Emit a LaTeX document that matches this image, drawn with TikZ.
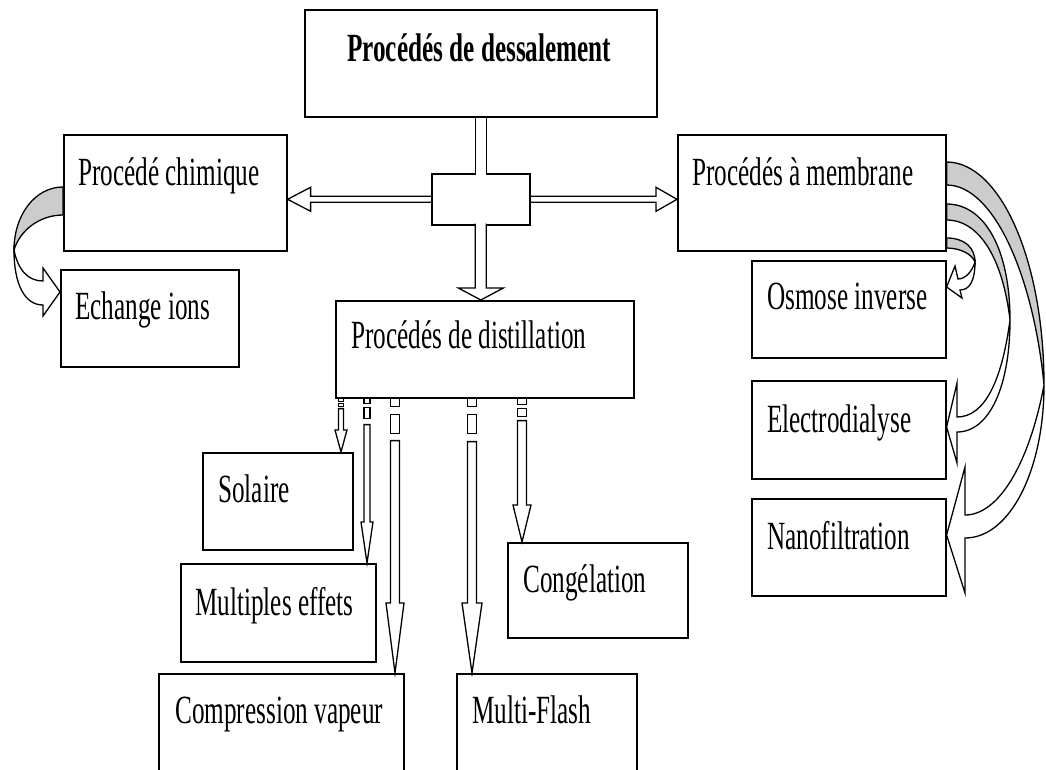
\documentclass[tikz,border=0pt]{standalone}
\usepackage{fontspec}
\setmainfont{Liberation Serif}[FakeStretch=0.63]
\usetikzlibrary{calc}
\definecolor{gris}{gray}{0.8}

\begin{document}
\begin{tikzpicture}[
        x=1pt, y=-1pt,
        boite/.style={draw, line width=1.6pt, anchor=north west, inner sep=0pt},
        texte/.style={anchor=base west, inner sep=0pt, font=\fontsize{40}{48}\selectfont},
        creux/.style={draw, line width=1.3pt},
        courbe/.style={draw, line width=1.3pt, fill=gris}
    ]
    \useasboundingbox (0,0) rectangle (1046,769);

    % boites
    \node[boite, minimum width=352, minimum height=107] (dess) at (304,9) {};
    \node[boite, minimum width=223, minimum height=116] (chim) at (63,134) {};
    \node[boite, minimum width=178, minimum height=97] (ech) at (60,269) {};
    \node[boite, minimum width=298, minimum height=97] (dist) at (335,300) {};
    \node[boite, minimum width=268, minimum height=116] (memb) at (677,134) {};
    \node[boite, minimum width=194, minimum height=97] (osm) at (751,260) {};
    \node[boite, minimum width=194, minimum height=98] (elec) at (751,380) {};
    \node[boite, minimum width=194, minimum height=97] (nano) at (751,498) {};
    \node[boite, minimum width=150, minimum height=97] (sol) at (202,452) {};
    \node[boite, minimum width=195, minimum height=98] (multi) at (180,563) {};
    \node[boite, minimum width=245, minimum height=130] (comp) at (158,673) {};
    \node[boite, minimum width=180, minimum height=95] (cong) at (507,542) {};
    \node[boite, minimum width=180, minimum height=130] (flash) at (456,673) {};
    \node[boite, minimum width=98, minimum height=51] (hub) at (431,173) {};

    % textes
    \node[texte, font=\fontsize{40}{48}\selectfont\bfseries] (tdess) at (347,61) {Procédés de dessalement};
    \node[texte] (tchim) at (78,185) {Procédé chimique};
    \node[texte] (tech) at (75,319) {Echange ions};
    \node[texte] (tdist) at (351,348) {Procédés de distillation};
    \node[texte] (tmemb) at (692,185) {Procédés à membrane};
    \node[texte] (tosm) at (767,309) {Osmose inverse};
    \node[texte] (telec) at (767,432) {Electrodialyse};
    \node[texte] (tnano) at (767,549) {Nanofiltration};
    \node[texte] (tsol) at (218,502) {Solaire};
    \node[texte] (tmulti) at (195,615) {Multiples effets};
    \node[texte] (tcomp) at (175,723) {Compression vapeur};
    \node[texte] (tcong) at (523,592) {Congélation};
    \node[texte] (tflash) at (472,723) {Multi-Flash};

    % liaisons centrales
    \fill[white] ($(hub.north)+(-4.8,-2)$) rectangle ($(hub.north)+(4.8,3)$);
    \draw[creux] ($(dess.south)+(-5.5,0)$) -- ($(hub.north)+(-5.5,0)$);
    \draw[creux] ($(dess.south)+(5.5,0)$) -- ($(hub.north)+(5.5,0)$);
    \draw[creux, fill=white] ($(hub.south)+(-5.5,-2)$) -- ($(hub.south |- dist.north)+(-5.5,-12)$) -- ++(-17,0)
        -- (hub.south |- dist.north) -- ++(22.5,-12) -- ++(-17,0) -- ($(hub.south)+(5.5,-2)$);
    \draw[creux] ($(hub.west)+(0,-3)$) -- ($(chim.east |- hub.west)+(23,-3)$) -- ++(0,-9)
        -- (chim.east |- hub.west) -- ++(23,12) -- ++(0,-9) -- ($(hub.west)+(0,3)$);
    \draw[creux] ($(hub.east)+(0,-3)$) -- ($(memb.west |- hub.east)+(-21,-3)$) -- ++(0,-9)
        -- (memb.west |- hub.east) -- ++(-21,12) -- ++(0,-9) -- ($(hub.east)+(0,3)$);

    % fleches courbes
    \draw[courbe] (chim.west |- 0,187) .. controls (35,187) and (14,215) .. (14,250)
        .. controls (20,230) and (40,215) .. (chim.west |- 0,215) -- cycle;
    \draw[creux] (14,250) .. controls (14,285) and (25,305) .. (43,305) -- (43,316) -- (ech.west |- 0,292)
        -- (43,268) -- (43,281) .. controls (28,281) and (18,270) .. (14,250) -- cycle;

    \draw[courbe] (memb.east |- 0,238) .. controls (965,238) and (975,248) .. (975,262)
        .. controls (972,254) and (960,248) .. (memb.east |- 0,248) -- cycle;
    \draw[creux] (975,262) .. controls (975,280) and (970,290) .. (960,290) -- (962,298) -- (osm.east |- 0,287)
        -- (955,266) -- (958,279) .. controls (965,279) and (972,272) .. (975,262) -- cycle;

    \draw[courbe] (memb.east |- 0,204) .. controls (985,204) and (1010,250) .. (1010,320)
        .. controls (1003,260) and (980,220) .. (memb.east |- 0,220) -- cycle;
    \draw[creux] (1010,320) .. controls (1010,385) and (990,432) .. (957,432) -- (957,463) -- (elec.east |- 0,427)
        -- (957,383) -- (957,417) .. controls (985,417) and (1002,380) .. (1010,320) -- cycle;

    \draw[courbe] (memb.east |- 0,162) .. controls (1000,162) and (1044,260) .. (1044,385)
        .. controls (1034,280) and (995,185) .. (memb.east |- 0,185) -- cycle;
    \draw[creux] (1044,385) .. controls (1044,470) and (1010,538) .. (965,538) -- (965,593) -- (nano.east |- 0,535)
        -- (965,467) -- (965,515) .. controls (1000,515) and (1030,460) .. (1044,385) -- cycle;

    % fleches de distillation
    \foreach \ax/\demi/\tete/\cible/\lfl/\ra/\rb/\rc/\rd in
        {341/2.5/6/sol/22/3/5/8/10, 367/3/6/multi/41/5/9/20/26, 395/4.5/9/comp/70/8/16/35/42,
         472/4.5/10/flash/70/8/16/35/43, 522/4.5/9/cong/37/6/10/18/22}{
        \coordinate (haut) at (\ax,0 |- dist.south);
        \coordinate (bout) at (\ax,0 |- \cible.north);
        \draw[creux] ($(haut)+(-\demi,0)$) rectangle ($(haut)+(\demi,\ra)$);
        \draw[creux] ($(haut)+(-\demi,\rb)$) rectangle ($(haut)+(\demi,\rc)$);
        \draw[creux] ($(haut)+(-\demi,\rd)$) -- ($(bout)+(-\demi,-\lfl)$) -- ($(bout)+(-\tete,-\lfl)$) -- (bout)
            -- ($(bout)+(\tete,-\lfl)$) -- ($(bout)+(\demi,-\lfl)$) -- ($(haut)+(\demi,\rd)$) -- cycle;
    }
\end{tikzpicture}
\end{document}
